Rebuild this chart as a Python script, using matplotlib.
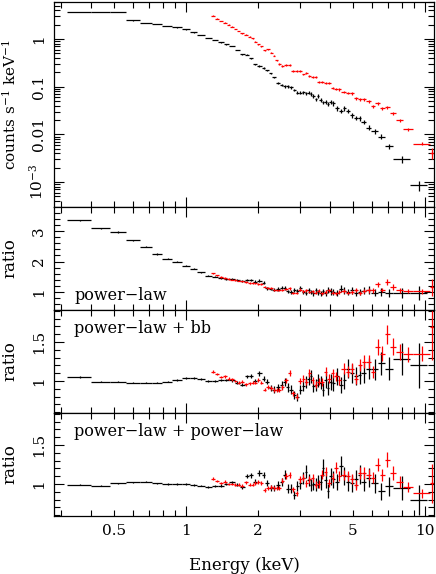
import matplotlib
matplotlib.use('Agg')
import matplotlib.pyplot as plt
import numpy as np
from matplotlib.ticker import FixedLocator, FuncFormatter, LogLocator, MultipleLocator, NullFormatter

plt.rcParams['font.family'] = 'DejaVu Serif'
plt.rcParams['mathtext.fontset'] = 'dejavuserif'

# black spectrum: bin edges (keV), count rate, ratios to three models, fractional error
black_edges = [0.319, 0.399, 0.481, 0.559, 0.642, 0.723, 0.796, 0.878, 0.962, 1.042,
               1.117, 1.197, 1.281, 1.357, 1.438, 1.517, 1.599, 1.678, 1.761, 1.840,
               1.912, 1.987, 2.074, 2.151, 2.225, 2.301, 2.387, 2.474, 2.554, 2.633,
               2.711, 2.796, 2.880, 2.965, 3.051, 3.139, 3.218, 3.303, 3.377, 3.455,
               3.540, 3.619, 3.707, 3.797, 3.882, 3.977, 4.082, 4.202, 4.354, 4.525,
               4.686, 4.857, 5.047, 5.231, 5.416, 5.655, 5.962, 6.341, 6.803, 7.368,
               8.654, 10.16]
black_counts = [3.75, 3.72, 3.70, 2.47, 2.17, 2.06, 1.90, 1.76, 1.60, 1.38,
                1.23, 1.06, 0.953, 0.853, 0.774, 0.713, 0.588, 0.478, 0.469, 0.393,
                0.294, 0.272, 0.246, 0.221, 0.191, 0.157, 0.118, 0.107, 0.102, 0.102,
                0.097, 0.0851, 0.0747, 0.0747, 0.0763, 0.0726, 0.0747, 0.0702, 0.0637, 0.0543,
                0.0637, 0.0525, 0.0470, 0.0484, 0.0427, 0.0484, 0.0448, 0.0352, 0.0309, 0.0352,
                0.0313, 0.0251, 0.0223, 0.0220, 0.0184, 0.0138, 0.0117, 0.00893, 0.00569, 0.00304,
                0.000853]
black_pl = [3.35, 3.09, 2.97, 2.70, 2.49, 2.25, 2.09, 2.00, 1.87, 1.76,
            1.65, 1.54, 1.50, 1.46, 1.43, 1.42, 1.40, 1.36, 1.40, 1.38,
            1.34, 1.37, 1.30, 1.12, 1.10, 1.08, 1.10, 1.14, 1.12, 1.02,
            1.00, 1.07, 1.04, 1.12, 1.00, 0.98, 1.05, 1.00, 0.96, 1.05,
            0.99, 0.96, 1.02, 0.97, 1.06, 1.02, 1.00, 0.96, 1.10, 1.04,
            1.00, 1.06, 0.98, 1.00, 1.04, 1.06, 0.97, 1.00, 0.98, 0.97,
            0.96]
black_plbb = [1.05, 0.99, 0.99, 0.98, 0.98, 0.98, 0.99, 1.01, 1.04, 1.04,
              1.02, 1.00, 1.00, 1.01, 1.01, 1.01, 0.98, 0.95, 1.06, 1.06,
              1.00, 1.10, 1.03, 0.99, 0.91, 0.89, 0.92, 0.95, 0.99, 0.92,
              0.89, 0.82, 0.79, 0.89, 0.94, 0.99, 1.02, 1.06, 0.93, 0.95,
              1.01, 0.98, 0.89, 1.01, 0.91, 0.99, 0.97, 1.06, 0.95, 1.01,
              1.16, 1.10, 1.06, 1.08, 1.10, 1.16, 1.15, 1.23, 1.16, 1.28,
              1.20]
black_plpl = [0.99, 0.98, 1.01, 1.02, 1.03, 1.01, 1.00, 1.00, 1.00, 0.99,
              0.98, 0.96, 0.97, 0.98, 1.00, 1.02, 0.99, 0.96, 1.10, 1.11,
              1.03, 1.14, 1.12, 1.01, 0.95, 0.95, 0.99, 1.03, 1.12, 0.94,
              0.94, 0.86, 0.97, 1.01, 1.08, 1.16, 1.05, 0.99, 1.00, 0.99,
              1.03, 1.02, 1.21, 1.05, 0.91, 1.10, 1.06, 1.03, 1.23, 1.10,
              1.03, 1.01, 1.06, 1.12, 1.03, 1.08, 1.01, 0.91, 0.97, 0.95,
              0.80]
black_err = [0.008, 0.008, 0.008, 0.008, 0.008, 0.009, 0.009, 0.010, 0.010, 0.011,
             0.012, 0.012, 0.014, 0.015, 0.016, 0.018, 0.020, 0.020, 0.022, 0.024,
             0.030, 0.030, 0.035, 0.035, 0.040, 0.045, 0.050, 0.050, 0.055, 0.060,
             0.060, 0.065, 0.065, 0.070, 0.070, 0.075, 0.075, 0.080, 0.080, 0.085,
             0.085, 0.090, 0.090, 0.095, 0.095, 0.100, 0.100, 0.100, 0.105, 0.105,
             0.110, 0.110, 0.110, 0.110, 0.115, 0.115, 0.120, 0.120, 0.130, 0.160,
             0.240]

# red spectrum
red_edges = [1.272, 1.325, 1.381, 1.435, 1.484, 1.532, 1.584, 1.633, 1.690, 1.757,
             1.821, 1.876, 1.925, 1.978, 2.040, 2.100, 2.168, 2.246, 2.312, 2.369,
             2.426, 2.493, 2.576, 2.665, 2.758, 2.858, 2.951, 3.049, 3.139, 3.232,
             3.334, 3.442, 3.543, 3.643, 3.771, 3.910, 4.036, 4.174, 4.313, 4.465,
             4.663, 4.864, 5.047, 5.261, 5.478, 5.681, 5.933, 6.195, 6.469, 6.789,
             7.139, 7.564, 8.115, 8.933, 10.49, 10.96]
red_counts = [3.08, 2.69, 2.39, 2.20, 2.00, 1.81, 1.62, 1.47, 1.32, 1.23,
              1.12, 1.03, 0.887, 0.774, 0.713, 0.588, 0.608, 0.516, 0.447, 0.362,
              0.299, 0.272, 0.285, 0.285, 0.216, 0.213, 0.213, 0.182, 0.196, 0.167,
              0.162, 0.157, 0.127, 0.124, 0.118, 0.118, 0.0951, 0.0893, 0.0880, 0.0784,
              0.0747, 0.0726, 0.0570, 0.0543, 0.0543, 0.0500, 0.0393, 0.0448, 0.0352, 0.0369,
              0.0276, 0.0200, 0.0128, 0.00637, 0.00406]
red_pl = [1.61, 1.55, 1.50, 1.46, 1.43, 1.41, 1.39, 1.37, 1.35, 1.33,
          1.30, 1.30, 1.28, 1.26, 1.25, 1.18, 1.14, 1.12, 1.08, 1.05,
          1.05, 1.08, 1.10, 1.12, 0.98, 0.97, 1.08, 1.02, 1.06, 1.00,
          1.02, 0.98, 1.04, 0.96, 1.00, 1.06, 0.98, 0.96, 1.00, 1.04,
          0.98, 1.00, 1.06, 0.96, 1.02, 1.05, 1.05, 1.25, 1.06, 1.34,
          1.17, 1.05, 1.03, 1.02, 1.15]
red_plbb = [1.12, 1.09, 1.05, 1.06, 1.03, 1.02, 1.00, 0.98, 0.99, 0.96,
            0.97, 0.98, 0.98, 1.01, 0.98, 0.89, 0.92, 0.91, 0.89, 0.89,
            0.89, 0.92, 1.01, 1.10, 0.84, 0.80, 1.00, 1.03, 0.99, 1.10,
            1.01, 0.95, 0.99, 0.99, 1.12, 1.03, 1.10, 1.06, 1.01, 1.16,
            1.12, 1.16, 1.03, 1.20, 1.25, 1.25, 1.12, 1.44, 1.35, 1.60,
            1.44, 1.37, 1.34, 1.35, 1.69]
red_plpl = [1.07, 1.04, 1.01, 1.03, 1.00, 1.00, 0.99, 0.99, 0.98, 1.02,
            0.99, 0.99, 1.01, 1.03, 1.01, 0.92, 0.95, 0.96, 0.95, 0.95,
            0.95, 1.04, 1.10, 1.12, 0.93, 0.88, 1.06, 1.08, 1.01, 1.06,
            1.08, 0.99, 1.00, 1.12, 1.16, 1.01, 1.08, 1.21, 1.10, 1.12,
            1.10, 1.06, 0.99, 1.14, 1.14, 1.12, 1.08, 1.25, 1.12, 1.31,
            1.14, 1.03, 0.96, 0.88, 1.01]
red_err = [0.015, 0.015, 0.016, 0.016, 0.017, 0.017, 0.018, 0.018, 0.019, 0.020,
           0.020, 0.021, 0.022, 0.023, 0.024, 0.025, 0.026, 0.027, 0.028, 0.030,
           0.030, 0.032, 0.033, 0.035, 0.036, 0.038, 0.040, 0.040, 0.042, 0.044,
           0.045, 0.046, 0.048, 0.050, 0.050, 0.052, 0.054, 0.055, 0.056, 0.058,
           0.060, 0.060, 0.062, 0.064, 0.065, 0.066, 0.068, 0.070, 0.070, 0.075,
           0.075, 0.075, 0.070, 0.070, 0.250]

model_labels = ['power\u2212law', 'power\u2212law + bb', 'power\u2212law + power\u2212law']


def draw(ax, edges, vals, err, color):
    edges = np.array(edges)
    vals = np.array(vals)
    lo, hi = edges[:-1], edges[1:]
    cen = 0.5 * (lo + hi)
    ax.errorbar(cen, vals, xerr=[cen - lo, hi - cen], yerr=vals * np.array(err),
                fmt='none', ecolor=color, elinewidth=0.9, capsize=0)


fig = plt.figure(figsize=(4.36, 5.74), dpi=100)
W, H = 436.0, 574.0
rows = [(2, 207), (207, 310), (310, 413), (413, 516)]
axes = [fig.add_axes([54 / W, 1 - b / H, 380 / W, (b - t) / H]) for t, b in rows]

xlabels = {0.5: '0.5', 2.0: '2', 5.0: '5'}
for i, ax in enumerate(axes):
    ax.set_xscale('log')
    ax.set_xlim(0.2804, 10.91)
    ax.xaxis.set_major_locator(FixedLocator([1, 10]))
    ax.xaxis.set_minor_locator(FixedLocator([0.3, 0.4, 0.5, 0.6, 0.7, 0.8, 0.9,
                                             2, 3, 4, 5, 6, 7, 8, 9]))
    ax.xaxis.set_major_formatter(FuncFormatter(lambda v, p: '%g' % v))
    ax.xaxis.set_minor_formatter(FuncFormatter(lambda v, p: xlabels.get(round(v, 2), '')))
    ax.tick_params(which='both', direction='in', top=True, right=True, width=0.8,
                   labelsize=11, pad=6)
    ax.tick_params(which='major', length=7)
    ax.tick_params(which='minor', length=4)
    if i < 3:
        ax.tick_params(which='both', labelbottom=False)
    for s in ax.spines.values():
        s.set_linewidth(0.9)

# top: count spectrum
ax = axes[0]
draw(ax, black_edges, black_counts, black_err, 'black')
draw(ax, red_edges, red_counts, red_err, 'red')
ax.set_yscale('log')
ax.set_ylim(3e-4, 6)
ax.yaxis.set_major_locator(FixedLocator([1e-3, 1e-2, 1e-1, 1]))
ax.yaxis.set_minor_locator(LogLocator(base=10, subs=np.arange(2, 10), numticks=20))
ax.yaxis.set_minor_formatter(NullFormatter())
ylab = {1e-3: '10$^{-3}$', 1e-2: '0.01', 1e-1: '0.1', 1.0: '1'}
ax.yaxis.set_major_formatter(FuncFormatter(lambda v, p: ylab.get(float('%.0e' % v), '')))
ax.set_ylabel('counts s$^{-1}$ keV$^{-1}$', fontsize=11)

ratio_sets = [(black_pl, red_pl), (black_plbb, red_plbb), (black_plpl, red_plpl)]
for ax, (bk, rd), lab in zip(axes[1:], ratio_sets, model_labels):
    draw(ax, black_edges, bk, black_err, 'black')
    draw(ax, red_edges, rd, red_err, 'red')
    ax.set_ylabel('ratio', fontsize=12)
    ax.yaxis.set_major_formatter(FuncFormatter(lambda v, p: '%g' % v))

axes[1].set_ylim(0.41, 3.79)
axes[1].yaxis.set_major_locator(FixedLocator([1, 2, 3]))
axes[1].yaxis.set_minor_locator(MultipleLocator(0.2))
axes[1].text(0.053, 0.094, model_labels[0], transform=axes[1].transAxes,
             fontsize=11.5, va='baseline')
for ax, lab in zip(axes[2:], model_labels[1:]):
    ax.set_ylim(0.59, 1.91)
    ax.yaxis.set_major_locator(FixedLocator([1, 1.5]))
    ax.yaxis.set_minor_locator(MultipleLocator(0.1))
    ax.text(0.053, 0.78, lab, transform=ax.transAxes, fontsize=11.5, va='baseline')

for ax in axes:
    ax.tick_params(axis='y', labelrotation=90)
    for t in ax.get_yticklabels():
        t.set_va('center')
    ax.yaxis.set_label_coords(-0.093, 0.5)

axes[3].set_xlabel('Energy (keV)', fontsize=12)
axes[3].xaxis.set_label_coords(0.5, -0.395)

fig.savefig('out.png', dpi=100)
